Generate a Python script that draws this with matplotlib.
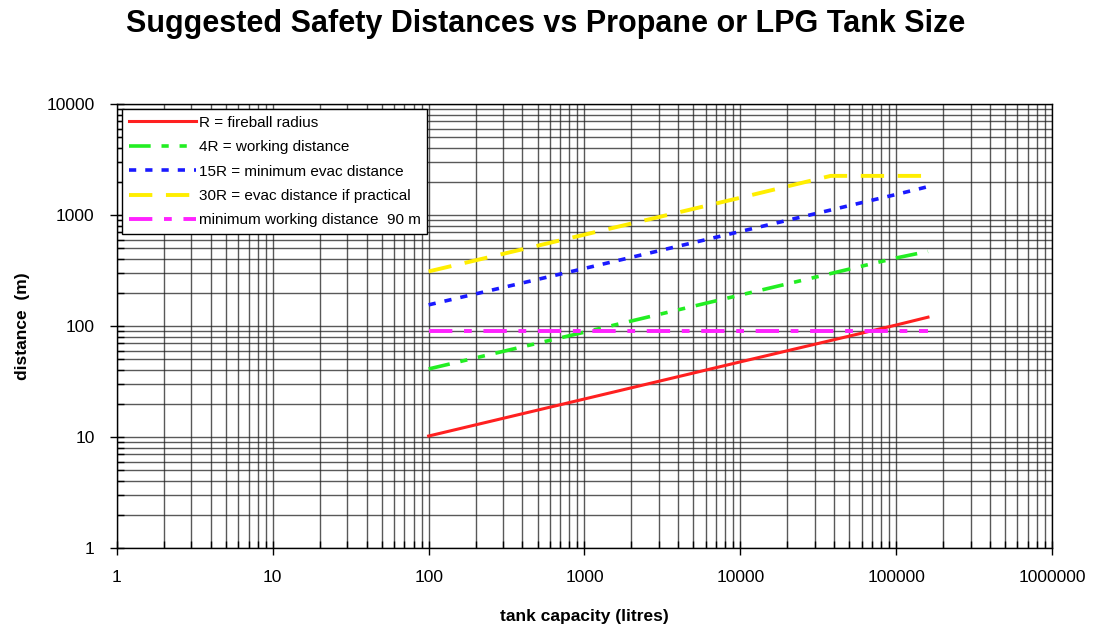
import matplotlib
matplotlib.use("Agg")
import matplotlib.pyplot as plt
from matplotlib.ticker import LogLocator, NullFormatter, FixedLocator

plt.rcParams["font.family"] = ["Liberation Sans", "DejaVu Sans"]

# tank capacity (litres) and distances (m)
cap = [100, 1000, 10000, 100000, 160000]
fireball_r = [10.2, 22, 47.5, 102, 120]
working_4r = [41, 88, 190, 410, 470]
evac_15r = [155, 330, 710, 1530, 1800]

cap_30r = [100, 1000, 10000, 38000, 160000]
evac_30r = [310, 665, 1430, 2250, 2250]

cap_min = [100, 160000]
min_working = [90, 90]

x_ticks = [1, 10, 100, 1000, 10000, 100000, 1000000]
y_ticks = [1, 10, 100, 1000, 10000]

fig = plt.figure(figsize=(10.93, 6.29), dpi=100)
ax = fig.add_axes([0.107, 0.1288, 0.8555, 0.7059])
ax.set_xscale("log")
ax.set_yscale("log")
ax.set_xlim(1, 1e6)
ax.set_ylim(1, 1e4)

ax.grid(True, which="both", color="#222222", linewidth=1.0, alpha=0.75)
ax.set_axisbelow(True)

ax.plot(cap, fireball_r, color="#ff2020", lw=2.2, label="R = fireball radius")
ax.plot(cap, working_4r, color="#22ee22", lw=2.6, dashes=(6, 3, 2, 3, 2, 3),
        label="4R = working distance")
ax.plot(cap, evac_15r, color="#1a1aff", lw=2.6, dashes=(2, 2.5),
        label="15R = minimum evac distance")
ax.plot(cap_30r, evac_30r, color="#ffee00", lw=2.8, dashes=(6, 3.5),
        label="30R = evac distance if practical")
ax.plot(cap_min, min_working, color="#ff22ff", lw=2.8, dashes=(6, 3, 2, 3),
        label="minimum working distance  90 m")

ax.xaxis.set_major_locator(FixedLocator(x_ticks))
ax.yaxis.set_major_locator(FixedLocator(y_ticks))
ax.set_xticklabels([str(v) for v in x_ticks])
ax.set_yticklabels([str(v) for v in y_ticks])
ax.xaxis.set_minor_locator(LogLocator(base=10, subs=range(2, 10), numticks=20))
ax.yaxis.set_minor_locator(LogLocator(base=10, subs=range(2, 10), numticks=20))
ax.xaxis.set_minor_formatter(NullFormatter())
ax.yaxis.set_minor_formatter(NullFormatter())
ax.tick_params(which="major", direction="inout", length=10, width=1, labelsize=12.5, pad=11)
ax.tick_params(which="minor", direction="in", length=5, width=1)

for s in ax.spines.values():
    s.set_color("black")
    s.set_linewidth(1)

ax.set_xlabel("tank capacity (litres)", fontsize=12.5, fontweight="bold", labelpad=17)
ax.set_ylabel("distance  (m)", fontsize=12.5, fontweight="bold", labelpad=12)
fig.suptitle("Suggested Safety Distances vs Propane or LPG Tank Size",
             fontsize=22, fontweight="bold", x=0.499, y=0.985)

leg = ax.legend(loc="upper left", fontsize=11, frameon=True, fancybox=False,
                edgecolor="black", framealpha=1, borderaxespad=0.35,
                handlelength=4.4, handletextpad=0.2, labelspacing=0.68,
                borderpad=0.42)
leg.get_frame().set_linewidth(1)

fig.savefig("out.png", dpi=100)
